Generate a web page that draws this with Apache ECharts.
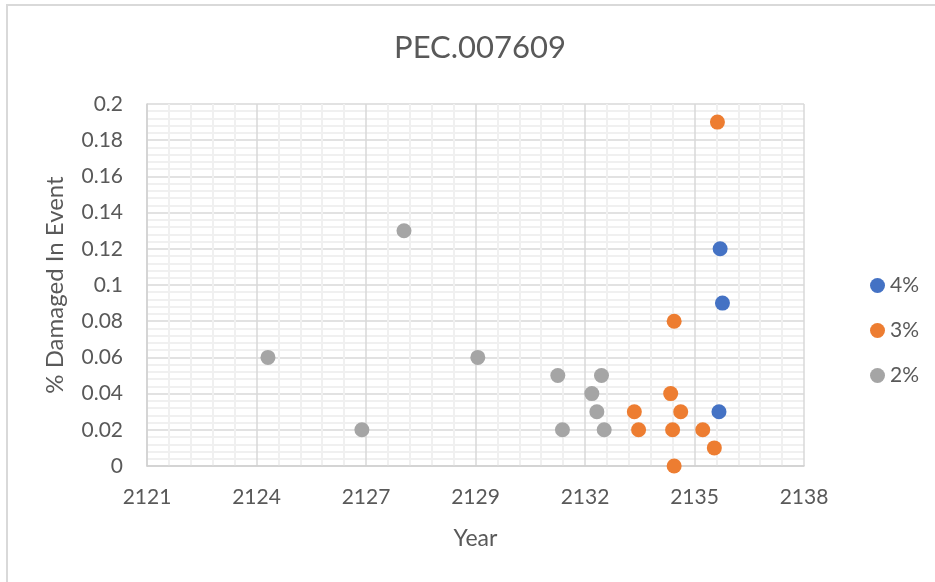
<!DOCTYPE html>
<html>
<head>
<meta charset="utf-8">
<script src="https://cdn.jsdelivr.net/npm/echarts@6/dist/echarts.min.js"></script>
<style>html,body{margin:0;padding:0;background:#fff;}#chart{width:935px;height:582px;}</style>
</head>
<body>
<div id="chart"></div>
<script>
const chartTitle = 'PEC.007609';
const seriesNames = ['4%', '3%', '2%'];
const xMin = 2121;
const xMax = 2138;
const xTickLabels = ['2121', '2124', '2127', '2129', '2132', '2135', '2138'];
const yTickLabels = ['0', '0.02', '0.04', '0.06', '0.08', '0.1', '0.12', '0.14', '0.16', '0.18', '0.2'];

const years4 = [2135.83, 2135.89, 2135.80];
const vals4  = [0.12, 0.09, 0.03];

const years3 = [2135.76, 2134.64, 2134.55, 2134.81, 2133.61, 2133.72, 2134.60, 2135.38, 2135.68, 2134.64];
const vals3  = [0.19, 0.08, 0.04, 0.03, 0.03, 0.02, 0.02, 0.02, 0.01, 0];

const years2 = [2127.65, 2124.13, 2129.56, 2131.63, 2132.76, 2132.51, 2132.64, 2126.56, 2131.75, 2132.83];
const vals2  = [0.13, 0.06, 0.06, 0.05, 0.05, 0.04, 0.03, 0.02, 0.02, 0.02];

const colors = ['#4472C4', '#ED7D31', '#A5A5A5'];

function pts(years, vals) {
  return years.map((y, i) => [y - xMin, vals[i]]);
}

const FONT = 'Lato';
const chart = echarts.init(document.getElementById('chart'));
const xSpan = xMax - xMin;
chart.setOption({
  animation: false,
  backgroundColor: '#ffffff',
  color: colors,
  title: {
    text: chartTitle,
    left: 475,
    top: 27,
    textAlign: 'center',
    textStyle: { fontFamily: FONT, fontSize: 31, fontWeight: 'normal', color: '#595959' }
  },
  graphic: [{
    type: 'rect', silent: true,
    shape: { x: 7, y: 5, width: 2000, height: 2000 },
    style: { fill: 'none', stroke: '#d9d9d9', lineWidth: 2 }
  }],
  legend: {
    orient: 'vertical',
    left: 865,
    top: 270,
    itemWidth: 15,
    itemHeight: 15,
    itemGap: 24,
    icon: 'circle',
    data: seriesNames,
    textStyle: { fontFamily: FONT, fontSize: 21, color: '#595959' }
  },
  grid: { left: 147, right: 131, top: 104, bottom: 116, containLabel: false },
  xAxis: {
    type: 'value',
    min: 0,
    max: xSpan,
    interval: xSpan / 6,
    name: 'Year',
    nameLocation: 'middle',
    nameGap: 61,
    nameTextStyle: { fontFamily: FONT, fontSize: 23, color: '#595959' },
    axisLine: { show: true, lineStyle: { color: '#d0d0d0', width: 1.5 } },
    axisTick: { show: false },
    axisLabel: {
      margin: 21,
      fontFamily: FONT, fontSize: 21, color: '#595959',
      formatter: (v, i) => xTickLabels[Math.round(v / (xSpan / 6))]
    },
    splitLine: { show: true, lineStyle: { color: '#d9d9d9', width: 1.5 } },
    minorTick: { show: false, splitNumber: 5 },
    minorSplitLine: { show: true, lineStyle: { color: '#f0f0f0', width: 2 } }
  },
  yAxis: {
    type: 'value',
    min: 0,
    max: 0.2,
    interval: 0.02,
    name: '% Damaged In Event',
    nameLocation: 'middle',
    nameGap: 80,
    nameTextStyle: { fontFamily: FONT, fontSize: 24, color: '#595959' },
    axisLine: { show: true, lineStyle: { color: '#d0d0d0', width: 1.5 } },
    axisTick: { show: false },
    axisLabel: {
      margin: 24,
      fontFamily: FONT, fontSize: 21, color: '#595959',
      formatter: (v) => yTickLabels[Math.round(v / 0.02)]
    },
    splitLine: { show: true, lineStyle: { color: '#d9d9d9', width: 1.5 } },
    minorTick: { show: false, splitNumber: 5 },
    minorSplitLine: { show: true, lineStyle: { color: '#f0f0f0', width: 2 } }
  },
  series: [
    { name: seriesNames[0], type: 'scatter', symbolSize: 15, data: pts(years4, vals4), itemStyle: { color: colors[0], opacity: 1 } },
    { name: seriesNames[1], type: 'scatter', symbolSize: 15, data: pts(years3, vals3), itemStyle: { color: colors[1], opacity: 1 } },
    { name: seriesNames[2], type: 'scatter', symbolSize: 15, data: pts(years2, vals2), itemStyle: { color: colors[2], opacity: 1 } }
  ]
});
</script>
</body>
</html>
